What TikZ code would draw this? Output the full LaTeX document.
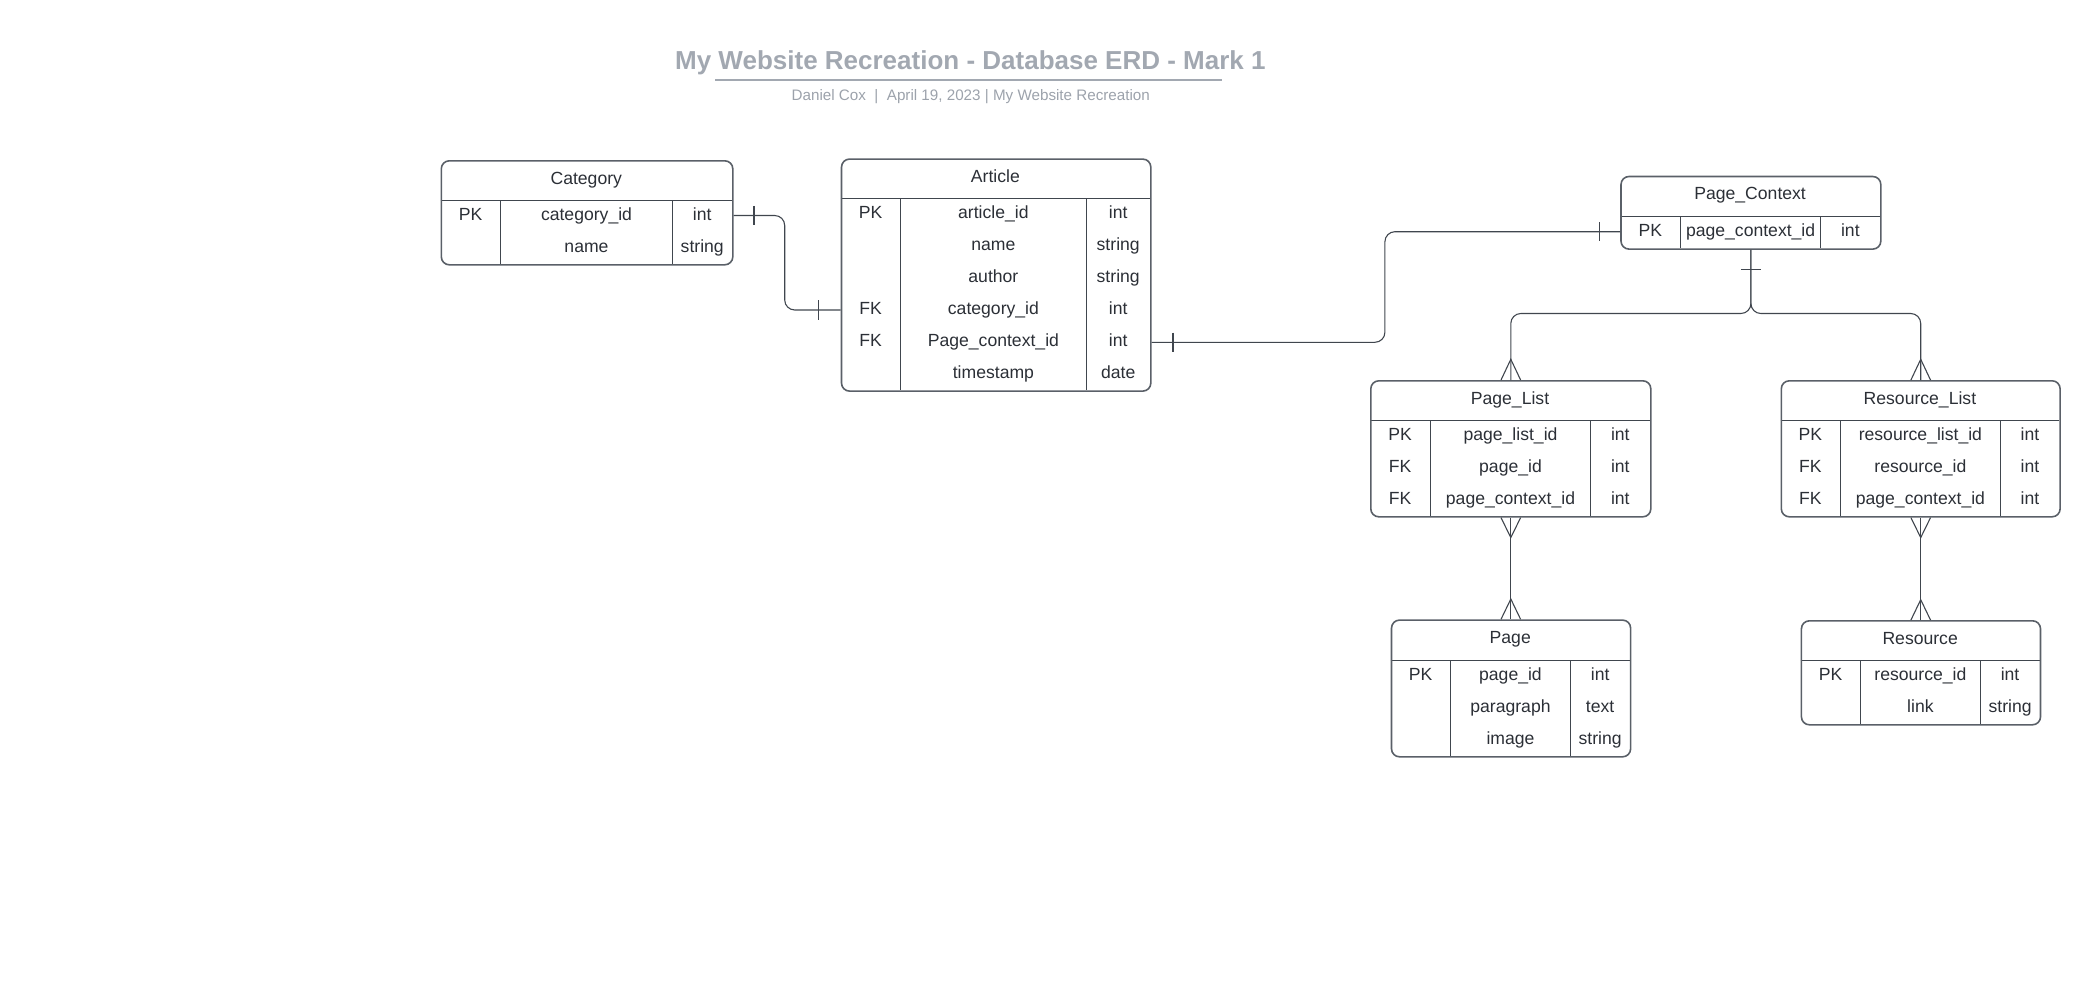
\documentclass[tikz,border=0pt]{standalone}
\usepackage{fontspec}
\setmainfont{Liberation Sans}
\usetikzlibrary{calc}
\definecolor{linec}{HTML}{40464E}
\definecolor{boxc}{HTML}{5A6068}
\definecolor{txtc}{HTML}{2B2F36}
\definecolor{titlec}{HTML}{A2A8B1}
\definecolor{subc}{HTML}{9CA2AB}

\newcommand{\erdtable}[9]{%
  \def\curL{#2}\def\curT{#3}\def\curR{#4}\def\curB{#5}\def\curH{#6}\def\curC{#7}\def\curD{#8}%
  \draw[tblline] (#2,#6) -- (#4,#6);
  \draw[tblline] (#7,#6) -- (#7,#5);
  \draw[tblline] (#8,#6) -- (#8,#5);
  \node[tblbox, minimum width={#4-#2}, minimum height={#5-#3}, anchor=north west] (#1) at (#2,#3) {};
  \node[hdrtext] (#1-title) at ({(#2+#4)/2},{#3+24.2}) {#9};
}
\newcommand{\erdrow}[5]{%
  \node[celltext] (#1-k#2) at ({(\curL+\curC)/2},{\curH+20+32*(#2-1)}) {#3};
  \node[celltext] (#1-f#2) at ({(\curC+\curD)/2},{\curH+20+32*(#2-1)}) {#4};
  \node[celltext] (#1-t#2) at ({(\curD+\curR)/2},{\curH+20+32*(#2-1)}) {#5};
}

\begin{document}
\begin{tikzpicture}[x=1pt,y=-1pt,
  tblbox/.style={draw=boxc, line width=1.6pt, rounded corners=8pt, inner sep=0pt},
  tblline/.style={draw=linec, line width=1.1pt},
  hdrtext/.style={anchor=base, inner sep=0pt, text=txtc, font=\fontsize{17.6}{20}\selectfont},
  celltext/.style={anchor=base, inner sep=0pt, text=txtc, font=\fontsize{17.6}{20}\selectfont},
  conn/.style={draw=linec, line width=1.1pt},
]
\path[use as bounding box] (0,0) rectangle (2100,998);

% title
\node[anchor=base, inner sep=0pt, text=titlec, font=\fontsize{26}{30}\selectfont\bfseries] (title) at (970.4,70) {My Website Recreation - Database ERD - Mark 1};
\draw[titlec, line width=2pt] (715,80) -- (1222,80);
\node[anchor=base, inner sep=0pt, text=subc, font=\fontsize{15.2}{18}\selectfont] (subtitle) at (970.8,100.5) {Daniel Cox\ \ |\ \ April 19, 2023 | My Website Recreation};

% Category
\erdtable{cat}{440.5}{160}{732}{264}{200.5}{500.5}{672.5}{Category}
\erdrow{cat}{1}{PK}{category\_id}{int}
\erdrow{cat}{2}{}{name}{string}

% Article
\erdtable{art}{840.7}{158.3}{1150}{390.3}{198.3}{900.4}{1086.4}{Article}
\erdrow{art}{1}{PK}{article\_id}{int}
\erdrow{art}{2}{}{name}{string}
\erdrow{art}{3}{}{author}{string}
\erdrow{art}{4}{FK}{category\_id}{int}
\erdrow{art}{5}{FK}{Page\_context\_id}{int}
\erdrow{art}{6}{}{timestamp}{date}

% Page_Context
\erdtable{pc}{1620.2}{175.7}{1880}{248.3}{216.7}{1680.5}{1820.7}{Page\_Context}
\erdrow{pc}{1}{PK}{page\_context\_id}{int}

% Page_List
\erdtable{pl}{1370}{380}{1650}{516}{420.7}{1430.4}{1590.6}{Page\_List}
\erdrow{pl}{1}{PK}{page\_list\_id}{int}
\erdrow{pl}{2}{FK}{page\_id}{int}
\erdrow{pl}{3}{FK}{page\_context\_id}{int}

% Resource_List
\erdtable{rl}{1780.5}{380}{2059.3}{516}{420.7}{1840.3}{2000.5}{Resource\_List}
\erdrow{rl}{1}{PK}{resource\_list\_id}{int}
\erdrow{rl}{2}{FK}{resource\_id}{int}
\erdrow{rl}{3}{FK}{page\_context\_id}{int}

% Page
\erdtable{pg}{1390.7}{619.3}{1629.8}{756}{660.3}{1450.4}{1570.5}{Page}
\erdrow{pg}{1}{PK}{page\_id}{int}
\erdrow{pg}{2}{}{paragraph}{text}
\erdrow{pg}{3}{}{image}{string}

% Resource
\erdtable{rs}{1800.6}{620}{2039.7}{724}{660.3}{1860.4}{1980.4}{Resource}
\erdrow{rs}{1}{PK}{resource\_id}{int}
\erdrow{rs}{2}{}{link}{string}

% Category -- Article
\draw[conn, rounded corners=10pt] (cat.east |- 0,215.5) -- (784.7,215.5) -- (784.7,310) -- (art.west |- 0,310);
\draw[conn] ($(cat.east |- 0,215.5)+(20.4,-9.6)$) -- ++(0,19.3);
\draw[conn] ($(art.west |- 0,310)+(-22,-9.6)$) -- ++(0,19.3);

% Article -- Page_Context
\draw[conn, rounded corners=10pt] (art.east |- 0,342.3) -- (1384.9,342.3) -- (1384.9,231.7) -- (pc.west |- 0,231.7);
\draw[conn] ($(art.east |- 0,342.3)+(21.4,-9.8)$) -- ++(0,19.6);
\draw[conn] ($(pc.west |- 0,231.7)+(-20.5,-9.4)$) -- ++(0,18.8);

% Page_Context -- Page_List / Resource_List
\draw[conn, rounded corners=10pt] (pc.south) -- (pc.south |- 0,313.5) -- (pl.north |- 0,313.5) -- (pl.north);
\draw[conn, rounded corners=10pt] (pc.south) -- (pc.south |- 0,313.5) -- (rl.north |- 0,313.5) -- (rl.north);
\draw[conn] ($(pc.south)+(-10,20)$) -- ++(20,0);
\draw[conn] ([xshift=-9.8pt]pl.north) -- ([yshift=20.7pt]pl.north) -- ([xshift=9.8pt]pl.north);
\draw[conn] ([xshift=-9.8pt]rl.north) -- ([yshift=20.7pt]rl.north) -- ([xshift=9.8pt]rl.north);

% Page_List -- Page
\draw[conn] (pl.south) -- (pl.south |- pg.north);
\draw[conn] ([xshift=-9.8pt]pl.south) -- ([yshift=-20pt]pl.south) -- ([xshift=9.8pt]pl.south);
\draw[conn] ([xshift=-9.8pt]pl.south |- pg.north) -- ([yshift=20.3pt]pl.south |- pg.north) -- ([xshift=9.8pt]pl.south |- pg.north);

% Resource_List -- Resource
\draw[conn] (rl.south) -- (rl.south |- rs.north);
\draw[conn] ([xshift=-9.8pt]rl.south) -- ([yshift=-20pt]rl.south) -- ([xshift=9.8pt]rl.south);
\draw[conn] ([xshift=-9.8pt]rl.south |- rs.north) -- ([yshift=20.3pt]rl.south |- rs.north) -- ([xshift=9.8pt]rl.south |- rs.north);
\end{tikzpicture}
\end{document}
